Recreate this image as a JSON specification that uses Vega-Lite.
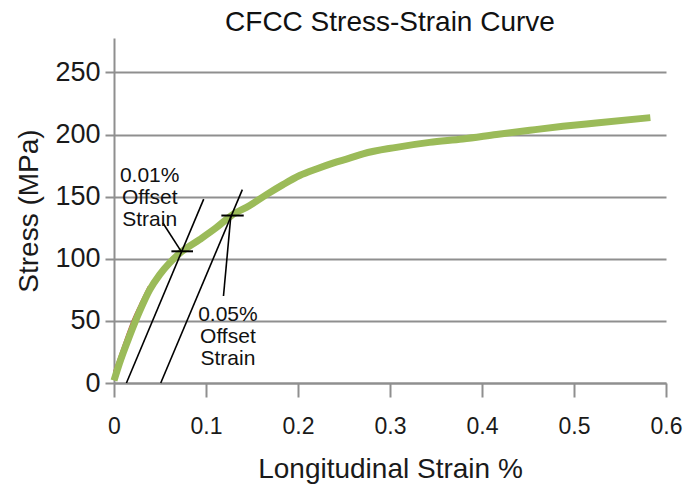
{
  "$schema": "https://vega.github.io/schema/vega-lite/v6.json",
  "width": 552,
  "height": 345,
  "autosize": {"type": "none"},
  "padding": {"left": 114, "top": 38, "right": 29, "bottom": 106},
  "background": "white",
  "title": {
    "text": "CFCC Stress-Strain Curve",
    "fontSize": 28,
    "fontWeight": "normal",
    "font": "Liberation Sans",
    "color": "#111111",
    "anchor": "middle",
    "baseline": "bottom",
    "offset": 0,
    "dy": 27
  },
  "config": {
    "view": {"stroke": null},
    "font": "Liberation Sans",
    "axis": {
      "labelFont": "Liberation Sans",
      "titleFont": "Liberation Sans",
      "labelColor": "#1a1a1a",
      "titleColor": "#1a1a1a",
      "titleFontWeight": "normal",
      "domainColor": "#8f8f8f",
      "domainWidth": 2,
      "tickColor": "#8f8f8f",
      "tickWidth": 2,
      "gridColor": "#8f8f8f",
      "gridWidth": 2
    }
  },
  "datasets": {
    "curve": [
      {"strain": 0.0, "stress": 2},
      {"strain": 0.006, "stress": 16},
      {"strain": 0.017, "stress": 38},
      {"strain": 0.028, "stress": 58},
      {"strain": 0.0388, "stress": 75},
      {"strain": 0.0497, "stress": 87.3},
      {"strain": 0.0605, "stress": 96.7},
      {"strain": 0.0732, "stress": 105.5},
      {"strain": 0.093, "stress": 115.4},
      {"strain": 0.111, "stress": 124.9},
      {"strain": 0.1276, "stress": 134.8},
      {"strain": 0.1475, "stress": 142.8},
      {"strain": 0.1657, "stress": 151.6},
      {"strain": 0.1837, "stress": 159.7},
      {"strain": 0.2018, "stress": 167},
      {"strain": 0.22, "stress": 172.3},
      {"strain": 0.238, "stress": 177},
      {"strain": 0.256, "stress": 181},
      {"strain": 0.2707, "stress": 184.5},
      {"strain": 0.307, "stress": 189.7},
      {"strain": 0.343, "stress": 193.7},
      {"strain": 0.379, "stress": 196.4},
      {"strain": 0.4157, "stress": 200},
      {"strain": 0.452, "stress": 203.4},
      {"strain": 0.488, "stress": 206.6},
      {"strain": 0.524, "stress": 209.3},
      {"strain": 0.583, "stress": 213.6}
    ],
    "red": [
      {"strain": 0.0, "stress": 9},
      {"strain": 0.01, "stress": 30},
      {"strain": 0.02, "stress": 50},
      {"strain": 0.03, "stress": 66},
      {"strain": 0.038, "stress": 78}
    ],
    "offsets": [
      {"x1": 0.0135, "y1": 0, "x2": 0.0975, "y2": 148},
      {"x1": 0.0508, "y1": 0, "x2": 0.1395, "y2": 155.7},
      {"x1": 0.053, "y1": 129, "x2": 0.073, "y2": 106},
      {"x1": 0.119, "y1": 70, "x2": 0.127, "y2": 134.5}
    ],
    "crosses": [
      {"x1": 0.0624, "x2": 0.0859, "y": 106},
      {"x1": 0.1167, "x2": 0.141, "y": 134.8}
    ],
    "labels": [
      {"x": 0.0388, "y": 162, "label": "0.01%\nOffset\nStrain"},
      {"x": 0.1238, "y": 49.7, "label": "0.05%\nOffset\nStrain"}
    ]
  },
  "layer": [
    {
      "data": {"name": "red"},
      "mark": {"type": "line", "color": "#c0504d", "strokeWidth": 2, "interpolate": "monotone"},
      "encoding": {
        "x": {
          "field": "strain",
          "type": "quantitative",
          "scale": {"domain": [0, 0.6], "nice": false, "zero": false},
          "axis": {
            "title": "Longitudinal Strain %",
            "titleFontSize": 28,
            "titlePadding": 17,
            "labelFontSize": 23,
            "labelPadding": 18,
            "labelFlush": false,
            "tickSize": 14,
            "values": [0, 0.1, 0.2, 0.3, 0.4, 0.5, 0.6],
            "format": ".1~f",
            "grid": false
          }
        },
        "y": {
          "field": "stress",
          "type": "quantitative",
          "scale": {"domain": [0, 277.7], "nice": false, "zero": false},
          "axis": {
            "title": "Stress (MPa)",
            "titleFontSize": 28,
            "titlePadding": 11,
            "labelFontSize": 27,
            "labelPadding": 5,
            "tickSize": 9,
            "values": [0, 50, 100, 150, 200, 250],
            "format": "d",
            "grid": true
          }
        }
      }
    },
    {
      "data": {"name": "curve"},
      "mark": {"type": "line", "color": "#9bbb59", "strokeWidth": 7, "strokeCap": "butt", "strokeJoin": "round", "interpolate": "monotone"},
      "encoding": {
        "x": {"field": "strain", "type": "quantitative"},
        "y": {"field": "stress", "type": "quantitative"}
      }
    },
    {
      "data": {"name": "offsets"},
      "mark": {"type": "rule", "color": "#000000", "strokeWidth": 1.6},
      "encoding": {
        "x": {"field": "x1", "type": "quantitative"},
        "y": {"field": "y1", "type": "quantitative"},
        "x2": {"field": "x2"},
        "y2": {"field": "y2"}
      }
    },
    {
      "data": {"name": "crosses"},
      "mark": {"type": "rule", "color": "#000000", "strokeWidth": 2},
      "encoding": {
        "x": {"field": "x1", "type": "quantitative"},
        "x2": {"field": "x2"},
        "y": {"field": "y", "type": "quantitative"}
      }
    },
    {
      "data": {"name": "labels"},
      "mark": {"type": "text", "align": "center", "baseline": "alphabetic", "fontSize": 21, "lineHeight": 22, "lineBreak": "\n", "color": "#111111", "font": "Liberation Sans"},
      "encoding": {
        "x": {"field": "x", "type": "quantitative"},
        "y": {"field": "y", "type": "quantitative"},
        "text": {"field": "label"}
      }
    }
  ]
}
